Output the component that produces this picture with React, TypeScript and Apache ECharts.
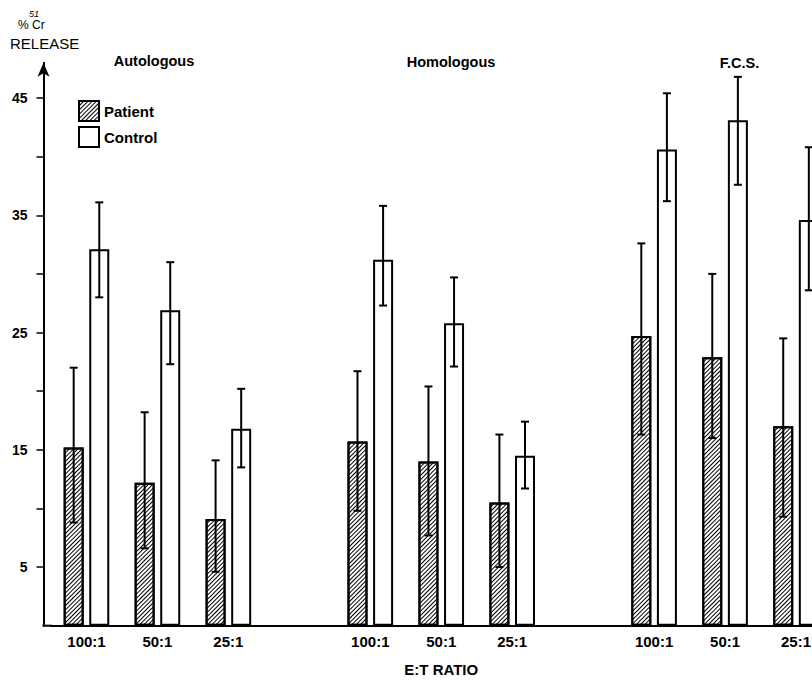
import React, { useEffect, useRef } from "react";
import * as echarts from "echarts";

const categories = ["100:1", "50:1", "25:1", "", "100:1", "50:1", "25:1", "", "100:1", "50:1", "25:1"];
const patient = [15.2, 12.2, 9.1, null, 15.7, 14.0, 10.5, null, 24.7, 22.9, 17.0];
const patientLow = [8.8, 6.6, 4.6, null, 9.8, 7.7, 5.0, null, 16.3, 16.0, 9.3];
const patientHigh = [22.0, 18.2, 14.1, null, 21.7, 20.4, 16.3, null, 32.6, 30.0, 24.5];
const control = [32.1, 26.9, 16.8, null, 31.2, 25.8, 14.5, null, 40.6, 43.1, 34.6];
const controlLow = [28.0, 22.3, 13.5, null, 27.3, 22.1, 11.7, null, 36.2, 37.6, 28.6];
const controlHigh = [36.1, 31.0, 20.2, null, 35.8, 29.7, 17.4, null, 45.4, 46.8, 40.8];
const groupTitles = ["Autologous", "Homologous", "F.C.S."];
const yLabelValues = [5, 15, 25, 35, 45];
const yTickValues = [5, 10, 15, 20, 25, 30, 35, 40, 45];

const FONT = "'Liberation Sans', Arial, Helvetica, sans-serif";
const W = 812;
const H = 680;
const GRID_LEFT = 51;
const GRID_RIGHT = -19.5;
const GRID_TOP = 62.8;
const GRID_BOTTOM = 54.3;
const Y_OFFSET = 7.5;
const BAR_W = 20;
const BAR_GAP = 0.28;
const HALF_SHIFT = (BAR_W + BAR_W * BAR_GAP) / 2;

function errData(lo: (number | null)[], hi: (number | null)[]) {
  const out: number[][] = [];
  lo.forEach((l, i) => {
    const h = hi[i];
    if (l != null && h != null) out.push([i, l, h]);
  });
  return out;
}

function makeErrRender(shift: number) {
  return (params: any, api: any) => {
    const x = api.value(0);
    const pLo = api.coord([x, api.value(1)]);
    const pHi = api.coord([x, api.value(2)]);
    const cx = pLo[0] + shift;
    const cap = 4;
    const style = { stroke: "#000", lineWidth: 2 };
    return {
      type: "group",
      children: [
        { type: "line", shape: { x1: cx, y1: pLo[1], x2: cx, y2: pHi[1] }, style },
        { type: "line", shape: { x1: cx - cap, y1: pHi[1], x2: cx + cap, y2: pHi[1] }, style },
        { type: "line", shape: { x1: cx - cap, y1: pLo[1], x2: cx + cap, y2: pLo[1] }, style },
      ],
    };
  };
}

const hatch = {
  symbol: "rect",
  symbolSize: 1,
  color: "#000",
  backgroundColor: "#fff",
  dashArrayX: [1, 0],
  dashArrayY: [1, 2],
  rotation: -Math.PI / 4,
};

export default function App() {
  const ref = useRef<HTMLDivElement>(null);
  useEffect(() => {
    if (!ref.current) return;
    const chart = echarts.init(ref.current, null, { renderer: "svg" });
    const baseY = H - GRID_BOTTOM;
    const titleStyle = (text: string, x: number, y: number) => ({
      type: "text",
      x,
      y,
      style: {
        text,
        fontSize: 14.5,
        fontWeight: "bold",
        fontFamily: FONT,
        fill: "#000",
        align: "center",
        verticalAlign: "middle",
        textAlign: "center",
        textVerticalAlign: "middle",
      },
    });
    chart.setOption({
      animation: false,
      backgroundColor: "#fff",
      grid: {
        left: GRID_LEFT,
        right: GRID_RIGHT,
        top: GRID_TOP,
        bottom: GRID_BOTTOM,
        containLabel: false,
        outerBoundsMode: "none",
      },
      legend: {
        data: ["Patient", "Control"],
        orient: "vertical",
        left: 73,
        top: 95,
        itemWidth: 20,
        itemHeight: 20,
        itemGap: 4,
        icon: "rect",
        itemStyle: { borderColor: "#000", borderWidth: 2 },
        textStyle: { fontSize: 15, fontWeight: "bold", color: "#000", fontFamily: FONT },
      },
      xAxis: {
        type: "category",
        data: categories,
        axisLine: { show: true, lineStyle: { color: "#000", width: 2 } },
        axisTick: { show: false },
        axisLabel: { interval: 0, margin: 8, fontSize: 15, fontWeight: "bold", color: "#000", fontFamily: FONT },
        splitLine: { show: false },
        name: "E:T RATIO",
        nameLocation: "middle",
        nameGap: 36,
        nameTextStyle: { fontSize: 15, fontWeight: "bold", color: "#000", fontFamily: FONT },
      },
      yAxis: {
        type: "value",
        min: 0,
        max: 48,
        offset: Y_OFFSET,
        axisLine: {
          show: true,
          lineStyle: { color: "#000", width: 2 },
          symbol: ["none", "arrow"],
          symbolSize: [9, 14],
        },
        axisTick: { show: true, length: 7, lineStyle: { color: "#000", width: 1.5 }, customValues: yTickValues },
        axisLabel: {
          customValues: yLabelValues,
          margin: 16,
          fontSize: 14,
          fontWeight: "bold",
          color: "#000",
          fontFamily: FONT,
        },
        splitLine: { show: false },
      },
      series: [
        {
          name: "Patient",
          type: "bar",
          data: patient.map((v) => (v == null ? "-" : v)),
          barWidth: BAR_W,
          barGap: BAR_GAP * 100 + "%",
          itemStyle: { color: "#fff", borderColor: "#000", borderWidth: 2, decal: hatch },
        },
        {
          name: "Control",
          type: "bar",
          data: control.map((v) => (v == null ? "-" : v)),
          barWidth: BAR_W,
          barGap: BAR_GAP * 100 + "%",
          itemStyle: { color: "#fff", borderColor: "#000", borderWidth: 2 },
        },
        {
          name: "PatientErr",
          type: "custom",
          renderItem: makeErrRender(-HALF_SHIFT),
          data: errData(patientLow, patientHigh),
          encode: { x: 0, y: [1, 2] },
          z: 10,
        },
        {
          name: "ControlErr",
          type: "custom",
          renderItem: makeErrRender(HALF_SHIFT),
          data: errData(controlLow, controlHigh),
          encode: { x: 0, y: [1, 2] },
          z: 10,
        },
      ],
      graphic: [
        {
          type: "line",
          shape: { x1: GRID_LEFT - Y_OFFSET - 1, y1: baseY, x2: GRID_LEFT + 1, y2: baseY },
          style: { stroke: "#000", lineWidth: 2 },
        },
        titleStyle(groupTitles[0], 154, 61),
        titleStyle(groupTitles[1], 451, 62),
        titleStyle(groupTitles[2], 739.5, 63),
        {
          type: "text",
          x: 18,
          y: 19,
          style: { text: "%", fontSize: 12, fontFamily: FONT, fill: "#000" },
        },
        {
          type: "text",
          x: 29,
          y: 9,
          style: { text: "51", fontSize: 9, fontStyle: "italic", fontFamily: FONT, fill: "#000" },
        },
        {
          type: "text",
          x: 32,
          y: 19,
          style: { text: "Cr", fontSize: 12, fontFamily: FONT, fill: "#000" },
        },
        {
          type: "text",
          x: 10,
          y: 36,
          style: { text: "RELEASE", fontSize: 15, fontFamily: FONT, fill: "#000" },
        },
      ],
    });
    return () => chart.dispose();
  }, []);
  return <div ref={ref} style={{ position: "absolute", left: 0, top: 0, width: W, height: H }} />;
}
